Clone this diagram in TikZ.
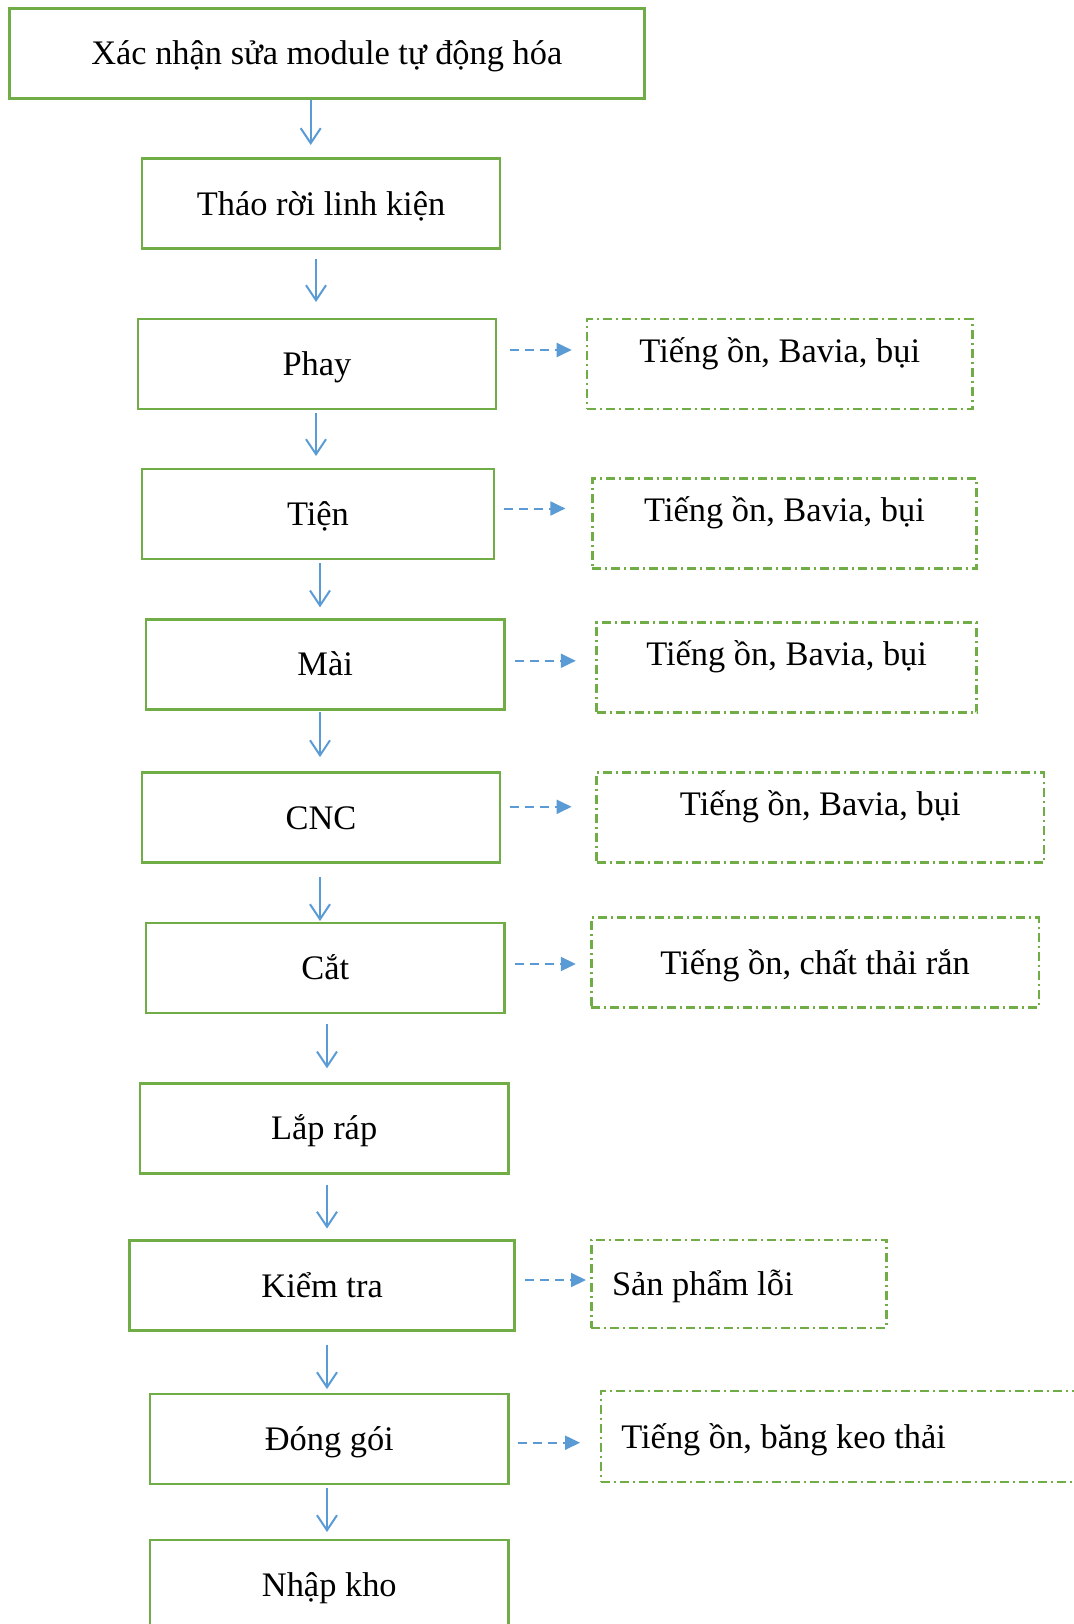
\documentclass[tikz,border=0pt]{standalone}
\usepackage{fontspec}
\setmainfont{Liberation Serif}
\usetikzlibrary{arrows.meta}
\definecolor{boxgreen}{HTML}{70AD47}
\definecolor{arrblue}{HTML}{5B9BD5}
\begin{document}
\begin{tikzpicture}[x=1pt,y=-1pt,
 every node/.style={font=\fontsize{34.4}{41}\selectfont, inner sep=0pt, outer sep=0pt, text height=31pt, text depth=8pt},
 mbox/.style={draw=boxgreen, line width=2.5pt, minimum height=90pt},
 ebox/.style={draw=boxgreen, line width=2.5pt, minimum height=90pt, dash pattern=on 9pt off 4pt on 2pt off 4pt},
 upper/.style={text depth=35pt},
 leftbox/.style={inner xsep=20.6pt},
 varrow/.style={draw=arrblue, line width=2pt, -{Straight Barb[length=15pt,width=20pt]}},
 harrow/.style={draw=arrblue, line width=2pt, dash pattern=on 9pt off 6pt, -{Triangle[length=15pt,width=14pt]}}]
\useasboundingbox (0,0) rectangle (1073,1624);
\fill[white] (0,0) rectangle (1073,1624);

% main boxes
\node[mbox, minimum width=635pt]   (b1)  at (326.8,53.4)   {Xác nhận sửa module tự động hóa};
\node[mbox, minimum width=358.3pt] (b2)  at (321,203.5)    {Tháo rời linh kiện};
\node[mbox, minimum width=358.3pt] (b3)  at (316.9,364)    {Phay};
\node[mbox, minimum width=352pt]   (b4)  at (318,514)      {Tiện};
\node[mbox, minimum width=358.4pt] (b5)  at (325.2,664.3)  {Mài};
\node[mbox, minimum width=358.3pt] (b6)  at (321,817.7)    {CNC};
\node[mbox, minimum width=358.4pt] (b7)  at (325.2,968)    {Cắt};
\node[mbox, minimum width=368.7pt] (b8)  at (324.2,1128.3) {Lắp ráp};
\node[mbox, minimum width=385.2pt] (b9)  at (322.1,1285.5) {Kiểm tra};
\node[mbox, minimum width=358.5pt] (b10) at (329.3,1439)   {Đóng gói};
\node[mbox, minimum width=358.5pt] (b11) at (329.3,1585)   {Nhập kho};

% emission boxes
\node[ebox, upper, minimum width=385.5pt] (d1) at (779.75,364)  {Tiếng ồn, Bavia, bụi};
\node[ebox, upper, minimum width=384.3pt] (d2) at (784.55,523.5) {Tiếng ồn, Bavia, bụi};
\node[ebox, upper, minimum width=380.1pt] (d3) at (786.65,667.5) {Tiếng ồn, Bavia, bụi};
\node[ebox, upper, minimum width=447.4pt] (d4) at (820.3,817.7)  {Tiếng ồn, Bavia, bụi};
\node[ebox, minimum width=447.4pt]        (d5) at (815.1,962.6)  {Tiếng ồn, chất thải rắn};
\node[ebox, leftbox, minimum height=88pt] (d6) at (739,1283.75) {\makebox[254pt][l]{Sản phẩm lỗi}};
\node[ebox, leftbox, minimum height=91pt] (d7) at (845.35,1436.5) {\makebox[448pt][l]{Tiếng ồn, băng keo thải}};

% vertical arrows
\draw[varrow] ([xshift=-16.1pt,yshift=-1.6pt]b1.south) -- ([xshift=-10.3pt,yshift=13.5pt]b2.north);
\draw[varrow] ([xshift=-5pt,yshift=-10.4pt]b2.south) -- ([xshift=-0.9pt,yshift=17pt]b3.north);
\draw[varrow] ([xshift=-0.9pt,yshift=-4pt]b3.south) -- ([xshift=-2pt,yshift=13pt]b4.north);
\draw[varrow] ([xshift=2pt,yshift=-4pt]b4.south) -- ([xshift=-5.2pt,yshift=12pt]b5.north);
\draw[varrow] ([xshift=-5.2pt,yshift=-3pt]b5.south) -- ([xshift=-1pt,yshift=15.6pt]b6.north);
\draw[varrow] ([xshift=-1pt,yshift=-14.3pt]b6.south) -- ([xshift=-5.2pt,yshift=2pt]b7.north);
\draw[varrow] ([xshift=1.8pt,yshift=-11pt]b7.south) -- ([xshift=2.8pt,yshift=15pt]b8.north);
\draw[varrow] ([xshift=2.8pt,yshift=-11.5pt]b8.south) -- ([xshift=4.9pt,yshift=12pt]b9.north);
\draw[varrow] ([xshift=4.9pt,yshift=-14pt]b9.south) -- ([xshift=-2.3pt,yshift=5pt]b10.north);
\draw[varrow] ([xshift=-2.3pt,yshift=-4pt]b10.south) -- ([xshift=-2.3pt,yshift=8pt]b11.north);

% horizontal dashed arrows
\draw[harrow] ([xshift=13.6pt,yshift=14pt]b3.east) -- ([xshift=-15.3pt,yshift=14pt]d1.west);
\draw[harrow] ([xshift=10pt,yshift=5.5pt]b4.east) -- ([xshift=-27pt,yshift=15pt]d2.west);
\draw[harrow] ([xshift=10.3pt,yshift=3.5pt]b5.east) -- ([xshift=-20.8pt,yshift=6.7pt]d3.west);
\draw[harrow] ([xshift=9.4pt,yshift=10.9pt]b6.east) -- ([xshift=-25pt,yshift=10.9pt]d4.west);
\draw[harrow] ([xshift=10.3pt,yshift=4pt]b7.east) -- ([xshift=-15.6pt,yshift=-1.4pt]d5.west);
\draw[harrow] ([xshift=10.3pt,yshift=5.5pt]b9.east) -- ([xshift=-5.4pt,yshift=3.75pt]d6.west);
\draw[harrow] ([xshift=9.5pt,yshift=-3.7pt]b10.east) -- ([xshift=-20.7pt,yshift=-6.2pt]d7.west);
\end{tikzpicture}
\end{document}
